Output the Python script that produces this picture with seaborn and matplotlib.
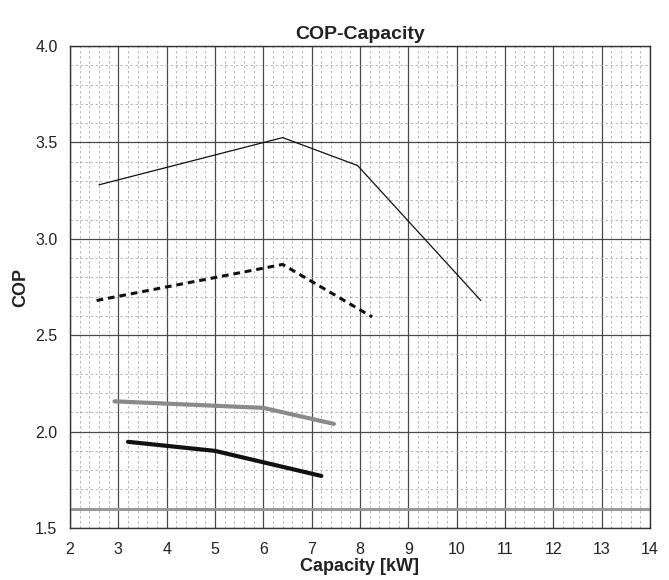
import pandas as pd
import matplotlib.pyplot as plt
import seaborn as sns
from matplotlib.ticker import MultipleLocator

# Series
cap_a = [2.6, 6.4, 7.95, 10.5]
cop_a = [3.28, 3.525, 3.38, 2.68]

cap_b = [2.55, 6.4, 8.25]
cop_b = [2.68, 2.867, 2.595]

cap_c = [2.92, 6.0, 7.46]
cop_c = [2.157, 2.123, 2.04]

cap_d = [3.2, 5.0, 7.2]
cop_d = [1.947, 1.90, 1.77]

base_cop = 1.6

x_ticks = list(range(2, 15))
y_ticks = [1.5, 2.0, 2.5, 3.0, 3.5, 4.0]

sns.set_style("white")
plt.rcParams['font.family'] = ['Liberation Sans', 'DejaVu Sans']

fig = plt.figure(figsize=(6.69, 5.8), dpi=100)
ax = fig.add_axes([70 / 669, 1 - 528 / 580, 580 / 669, 482 / 580])

# grid
ax.xaxis.set_major_locator(MultipleLocator(1))
ax.xaxis.set_minor_locator(MultipleLocator(0.2))
ax.yaxis.set_major_locator(MultipleLocator(0.5))
ax.yaxis.set_minor_locator(MultipleLocator(0.1))
ax.grid(which='minor', color='#adadad', linestyle=(0, (3, 3)), linewidth=0.6)
ax.grid(which='major', color='#4a4a4a', linestyle='-', linewidth=0.9)
ax.set_axisbelow(True)

ax.axhline(base_cop, color='#999999', linewidth=2.2)

def add_line(x, y, **kw):
    df = pd.DataFrame({'Capacity': x, 'COP': y})
    sns.lineplot(data=df, x='Capacity', y='COP', ax=ax, sort=False, **kw)

add_line(cap_a, cop_a, color='#111111', linewidth=0.9)
add_line(cap_b, cop_b, color='#111111', linewidth=2.2, linestyle=(0, (2.2, 1.6)))
add_line(cap_c, cop_c, color='#8a8a8a', linewidth=3)
add_line(cap_d, cop_d, color='#111111', linewidth=3)

ax.set_xlim(2, 14)
ax.set_ylim(1.5, 4.0)
ax.set_xticks(x_ticks)
ax.set_xticklabels([str(t) for t in x_ticks])
ax.set_yticks(y_ticks)
ax.set_yticklabels([f"{t:.1f}" for t in y_ticks])
ax.tick_params(axis='both', which='both', length=0, labelsize=11.5,
               labelcolor='#222222')
ax.tick_params(axis='x', pad=10)
ax.tick_params(axis='y', pad=9)

for side in ['left', 'bottom', 'top', 'right']:
    ax.spines[side].set_color('#333333')
    ax.spines[side].set_linewidth(1.0)

ax.set_title("COP-Capacity", fontsize=14, fontweight='bold', color='#222222', pad=5)
ax.set_xlabel("Capacity [kW]", fontsize=13, fontweight='bold', color='#222222', labelpad=1)
ax.set_ylabel("COP", fontsize=13, fontweight='bold', color='#222222', labelpad=4)

fig.savefig("out.png", dpi=100)
